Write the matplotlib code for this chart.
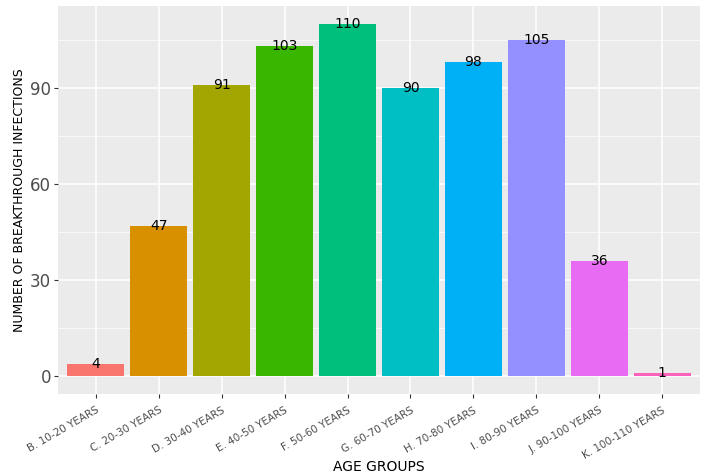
import matplotlib
matplotlib.use("Agg")
import matplotlib.pyplot as plt

categories = ["B. 10-20 YEARS", "C. 20-30 YEARS", "D. 30-40 YEARS", "E. 40-50 YEARS",
              "F. 50-60 YEARS", "G. 60-70 YEARS", "H. 70-80 YEARS", "I. 80-90 YEARS",
              "J. 90-100 YEARS", "K. 100-110 YEARS"]
values = [4, 47, 91, 103, 110, 90, 98, 105, 36, 1]
colors = ["#F8766D", "#D89000", "#A3A500", "#39B600", "#00BF7D",
          "#00BFC4", "#00B0F6", "#9590FF", "#E76BF3", "#FF62BC"]
yticks = [0, 30, 60, 90]

fig = plt.figure(figsize=(7.06, 4.73), dpi=100)
ax = fig.add_axes([58/706, 1-394/473, (700-58)/706, (394-6)/473])
ax.set_facecolor("#EBEBEB")
x = list(range(1, len(categories)+1))
ax.bar(x, values, width=0.9, color=colors, zorder=3)
for xi, v in zip(x, values):
    ax.text(xi, v, str(v), ha="center", va="center", fontsize=10, color="black", zorder=4)
ax.set_xlim(0.4, 10.6)
ax.set_ylim(-5.5, 115.5)
ax.set_yticks(yticks)
ax.set_xticks(x)
ax.set_xticklabels(categories, rotation=30, ha="right", rotation_mode="anchor", fontsize=7.5, color="#4D4D4D")
ax.tick_params(axis="y", labelsize=12, labelcolor="#4D4D4D", color="#333333", length=3, pad=2)
ax.tick_params(axis="x", color="#333333", length=3, pad=5)
ax.set_yticks([15, 45, 75, 105], minor=True)
ax.tick_params(which="minor", length=0)
ax.grid(True, which="major", color="white", linewidth=1.1, zorder=0)
ax.grid(True, which="minor", axis="y", color="white", linewidth=0.5, zorder=0)
for s in ax.spines.values():
    s.set_visible(False)
ax.set_xlabel("AGE GROUPS", fontsize=10, color="black", labelpad=0)
ax.set_ylabel("NUMBER OF BREAKTHROUGH INFECTIONS", fontsize=9, color="black", labelpad=3)
fig.savefig("out.png", dpi=100)
